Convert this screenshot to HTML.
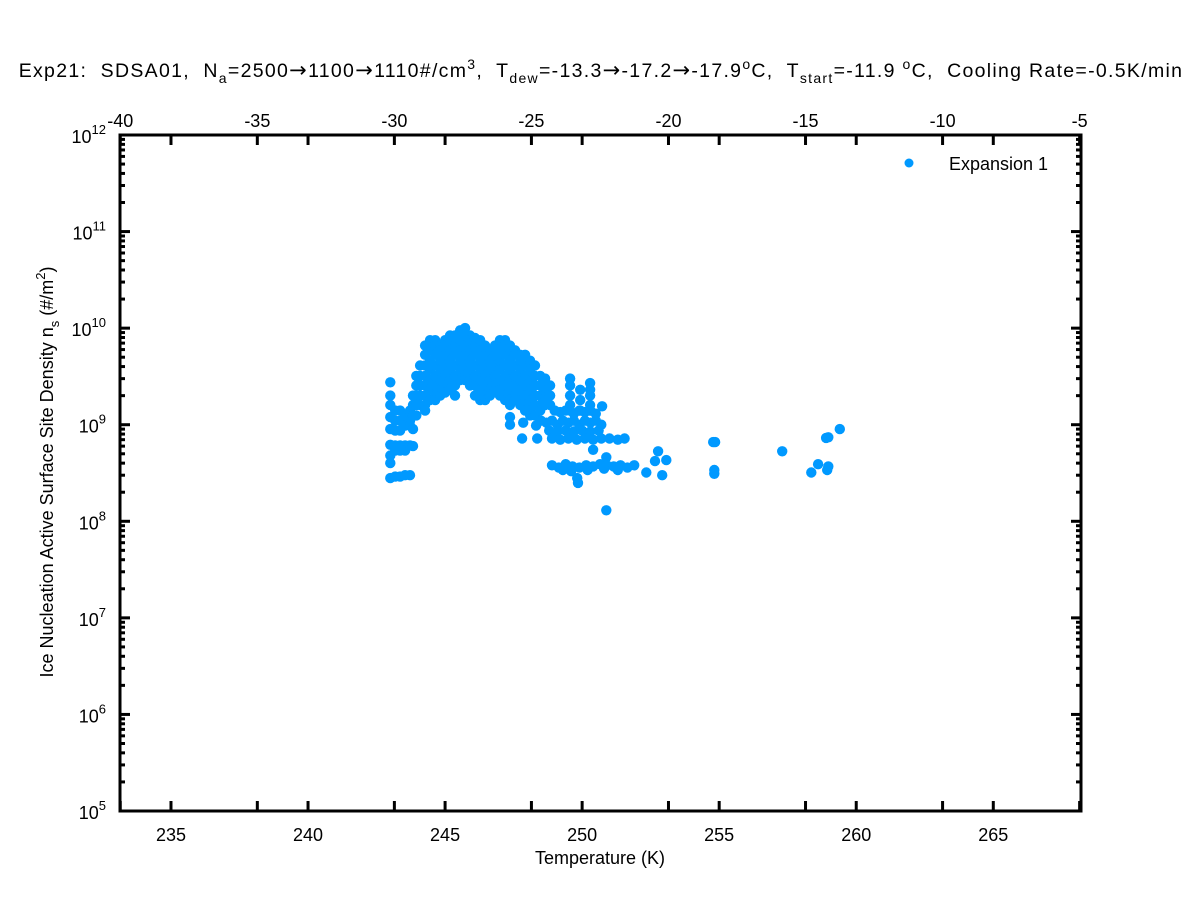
<!DOCTYPE html>
<html><head><meta charset="utf-8"><style>
body{margin:0;background:#fff}
svg{display:block;font-family:"Liberation Sans",Arial,sans-serif}
.pre{white-space:pre;letter-spacing:1.3px}
.ar{font-family:"DejaVu Sans",sans-serif;font-size:21px}
</style></head><body>
<svg id="chart" width="1201" height="901" viewBox="0 0 1201 901" xmlns="http://www.w3.org/2000/svg">
<rect width="1201" height="901" fill="#fff"/>
<text class="pre" x="601" y="77" text-anchor="middle" font-size="19.5">Exp21:  SDSA01,  N<tspan font-size="14" dy="6">a</tspan><tspan dy="-6">=2500</tspan><tspan class="ar">→</tspan><tspan>1100</tspan><tspan class="ar">→</tspan><tspan>1110#/cm</tspan><tspan font-size="14" dy="-8">3</tspan><tspan dy="8">,  T</tspan><tspan font-size="14" dy="6">dew</tspan><tspan dy="-6">=-13.3</tspan><tspan class="ar">→</tspan><tspan>-17.2</tspan><tspan class="ar">→</tspan><tspan>-17.9</tspan><tspan font-size="14" dy="-8">o</tspan><tspan dy="8">C,  T</tspan><tspan font-size="14" dy="6">start</tspan><tspan dy="-6">=-11.9 </tspan><tspan font-size="14" dy="-8">o</tspan><tspan dy="8">C,  Cooling Rate=-0.5K/min</tspan></text>
<g id="ticks"></g>
<g id="marks"></g>
<rect x="120" y="135" width="961" height="676" fill="none" stroke="#000" stroke-width="3"/>
<text x="600" y="864" text-anchor="middle" font-size="18">Temperature (K)</text>
<text transform="translate(53,472) rotate(-90)" text-anchor="middle" font-size="18">Ice Nucleation Active Surface Site Density n<tspan font-size="13" dy="6">s</tspan><tspan dy="-6"> (#/m</tspan><tspan font-size="13" dy="-8">2</tspan><tspan dy="8">)</tspan></text>
<g>
<circle cx="909" cy="163" r="4.5" fill="#0099ff"/>
<text x="949" y="170" font-size="18">Expansion 1</text>
</g>
</svg>
<script>
const xTicksK = [235,240,245,250,255,260,265];
const xTicksC = [-40,-35,-30,-25,-20,-15,-10,-5];
const yDecades = [5,6,7,8,9,10,11,12];
const temps = [
244.09,244.09,244.09,244.09,244.09,
244.27,244.27,244.27,244.27,244.27,244.27,244.27,244.27,
244.45,244.45,244.45,244.45,244.45,244.45,244.45,
244.64,244.64,244.64,244.64,244.64,244.64,244.64,244.64,
244.82,244.82,244.82,244.82,244.82,244.82,244.82,
245.0,245.0,245.0,245.0,245.0,245.0,245.0,
245.18,245.18,245.18,245.18,245.18,245.18,245.18,
245.36,245.36,245.36,245.36,245.36,245.36,245.36,
245.55,245.55,245.55,245.55,245.55,245.55,
245.73,245.73,245.73,245.73,245.73,245.73,245.73,
245.91,245.91,245.91,245.91,245.91,245.91,245.91,
246.09,246.09,246.09,246.09,246.09,246.09,246.09,
246.28,246.28,246.28,246.28,246.28,246.28,246.28,
246.46,246.46,246.46,246.46,246.46,246.46,246.46,
246.64,246.64,246.64,246.64,246.64,246.64,
246.82,246.82,246.82,246.82,246.82,246.82,
247.0,247.0,247.0,247.0,247.0,247.0,247.0,
247.19,247.19,247.19,247.19,247.19,247.19,247.19,247.19,
247.37,247.37,247.37,247.37,247.37,247.37,247.37,247.37,
247.55,247.55,247.55,247.55,247.55,247.55,247.55,
247.74,247.74,247.74,247.74,247.74,247.74,247.74,
247.92,247.92,247.92,247.92,247.92,247.92,247.92,
248.1,248.1,248.1,248.1,248.1,248.1,248.1,
248.28,248.28,248.28,248.28,248.28,248.28,
248.47,248.47,248.47,248.47,248.47,
248.65,248.65,248.65,248.65,
248.83,248.83,248.83,
243.0,243.0,243.0,243.0,243.0,243.0,243.0,243.0,243.0,
243.18,243.18,243.18,243.18,243.18,243.18,
243.36,243.36,243.36,243.36,243.36,243.36,
243.54,243.54,243.54,243.54,243.54,
243.72,243.72,243.72,243.72,243.72,
243.83,243.83,243.83,243.83,243.83,
243.95,243.95,243.95,243.95,243.95,
247.37,247.37,247.81,248.36,247.85,248.32,
249.56,249.56,249.56,249.56,249.56,
250.29,250.29,250.29,250.29,250.29,
249.93,249.93,249.93,
249.0,249.2,249.4,249.7,249.9,250.1,250.3,250.5,250.73,
248.5,248.7,248.9,249.1,249.3,249.5,249.7,249.9,250.1,250.3,250.5,250.7,
248.8,249.1,249.4,249.7,250.0,250.3,250.6,
248.9,249.2,249.5,249.8,250.1,250.4,250.7,251.0,251.3,251.55,
250.4,250.88,
248.9,249.15,249.4,249.65,249.9,250.15,250.4,250.65,250.9,251.15,251.4,251.65,251.9,
249.3,249.6,250.2,250.8,251.3,
249.82,249.85,250.88,252.34,252.92,252.77,252.66,253.07,
254.78,254.85,254.82,254.82,257.3,259.4,258.98,258.9,258.61,258.36,258.98,258.94
];
const ns = [
4.1e9,3.2e9,2.55e9,2e9,1.6e9,
6.6e9,5.3e9,4.1e9,3.2e9,2.55e9,2e9,1.6e9,1.4e9,
7.5e9,5.9e9,4.6e9,3.7e9,2.9e9,2.3e9,1.8e9,
7.5e9,6.6e9,5.3e9,4.1e9,3.2e9,2.55e9,2e9,1.8e9,
6.6e9,5.9e9,4.6e9,3.7e9,2.9e9,2.3e9,2e9,
7.5e9,6.6e9,5.3e9,4.1e9,3.2e9,2.55e9,2.15e9,
8.4e9,7.5e9,5.9e9,4.6e9,3.7e9,2.9e9,2.3e9,
8.4e9,6.6e9,5.3e9,4.1e9,3.2e9,2.55e9,2e9,
9.5e9,7.5e9,5.9e9,4.6e9,3.7e9,2.9e9,
1e10,8.4e9,6.6e9,5.3e9,4.1e9,3.2e9,2.9e9,
8.4e9,7.5e9,5.9e9,4.6e9,3.7e9,2.9e9,2.55e9,
7.9e9,6.6e9,5.3e9,4.1e9,3.2e9,2.55e9,2e9,
7.5e9,5.9e9,4.6e9,3.7e9,2.9e9,2.3e9,1.8e9,
6.6e9,5.3e9,4.1e9,3.2e9,2.55e9,2e9,1.8e9,
5.9e9,4.6e9,3.7e9,2.9e9,2.3e9,2e9,
6.6e9,5.3e9,4.1e9,3.2e9,2.55e9,2.3e9,
7.5e9,5.9e9,4.6e9,3.7e9,2.9e9,2.3e9,2e9,
7.5e9,6.6e9,5.3e9,4.1e9,3.2e9,2.55e9,2e9,1.8e9,
6.6e9,5.9e9,4.6e9,3.7e9,2.9e9,2.3e9,1.8e9,1.6e9,
5.9e9,5.3e9,4.1e9,3.2e9,2.55e9,2e9,1.8e9,
5.3e9,4.6e9,3.7e9,2.9e9,2.3e9,1.8e9,1.6e9,
5.3e9,4.1e9,3.2e9,2.55e9,2e9,1.6e9,1.4e9,
4.6e9,3.7e9,2.9e9,2.3e9,1.8e9,1.4e9,1.25e9,
4.1e9,3.2e9,2.55e9,2e9,1.6e9,1.25e9,
3.2e9,2.55e9,2e9,1.6e9,1.4e9,
3e9,2.4e9,1.9e9,1.6e9,
2.55e9,2e9,1.6e9,
2.75e9,2e9,1.6e9,1.2e9,9e8,6.2e8,4.8e8,4e8,2.8e8,
1.4e9,1.1e9,8.7e8,6.1e8,2.9e8,5.4e8,
1.4e9,1.1e9,8.7e8,5.4e8,2.9e8,6.1e8,
1.25e9,9.8e8,6.1e8,5.4e8,3e8,
1.4e9,1.1e9,9.8e8,6.1e8,3e8,
2e9,1.6e9,1.25e9,9e8,6e8,
3.2e9,2.55e9,2e9,1.6e9,1.25e9,
1.2e9,1.0e9,7.2e8,7.2e8,1.05e9,9.8e8,
3e9,2.55e9,2e9,1.6e9,1.4e9,
2.7e9,2.3e9,2e9,1.6e9,1.4e9,
2.3e9,1.8e9,1.4e9,
1.4e9,1.35e9,1.4e9,1.3e9,1.4e9,1.35e9,1.4e9,1.3e9,1.55e9,
1.1e9,1.05e9,1.1e9,1.0e9,1.1e9,1.05e9,1.1e9,1.0e9,1.1e9,1.05e9,1.1e9,1.0e9,
8.7e8,8.5e8,8.7e8,8.5e8,8.7e8,8.5e8,8.7e8,
7.2e8,7.0e8,7.2e8,7.0e8,7.2e8,7.0e8,7.2e8,7.2e8,7.0e8,7.2e8,
5.5e8,4.6e8,
3.8e8,3.6e8,3.9e8,3.7e8,3.6e8,3.8e8,3.7e8,3.9e8,3.8e8,3.7e8,3.8e8,3.6e8,3.8e8,
3.4e8,3.3e8,3.4e8,3.5e8,3.4e8,
2.8e8,2.5e8,1.3e8,3.2e8,3e8,5.3e8,4.2e8,4.3e8,
6.6e8,6.6e8,3.4e8,3.1e8,5.3e8,9e8,7.4e8,7.3e8,3.9e8,3.2e8,3.7e8,3.4e8
];
const NS='http://www.w3.org/2000/svg';
const L=120,R=1081,T=135,B=811;
const xMin=233.14, xMax=268.2;
const xS=t=>L+(t-xMin)/(xMax-xMin)*(R-L);
const yS=v=>B-(Math.log10(v)-5)/7*(B-T);
function mk(tag,attrs,parent){const e=document.createElementNS(NS,tag);for(const k in attrs)e.setAttribute(k,attrs[k]);parent.appendChild(e);return e;}
const tk=document.getElementById('ticks');
function line(x1,y1,x2,y2,name){const e=mk('line',{x1,y1,x2,y2,stroke:'#000','stroke-width':3},tk);

}
function txt(x,y,s,anchor,size,name){const e=mk('text',{x,y,'text-anchor':anchor,'font-size':size},tk);e.textContent=s;

return e;}
xTicksK.forEach(k=>{const x=xS(k);line(x,B,x,B-10,'x-tick');line(x,T,x,T+10,'x-tick-top');txt(x,841,String(k),'middle',18,'x-tick-label');});
xTicksC.forEach(c=>{const x=xS(c+273.15);line(x,T,x,T+10,'top-tick');line(x,B,x,B-10,'top-tick-bottom');txt(x,127,String(c),'middle',18,'top-tick-label');});
yDecades.forEach(d=>{const y=yS(Math.pow(10,d));line(L,y,L+10,y,'y-tick');line(R,y,R-10,y,'y-tick-right');
const t=txt(106,y+8,'10','end',18,'y-tick-label');const s=mk('tspan',{'font-size':13,dy:-9},t);s.textContent=String(d);
if(d<12){for(let m=2;m<10;m++){const ym=yS(m*Math.pow(10,d));line(L,ym,L+5,ym,'y-minor-tick');line(R,ym,R-5,ym,'y-minor-tick-right');}}});
const g=document.getElementById('marks');
temps.forEach((t,i)=>{const c=mk('circle',{cx:xS(t).toFixed(1),cy:yS(ns[i]).toFixed(1),r:5.2,fill:'#0099ff'},g);

});
</script>
</body></html>
